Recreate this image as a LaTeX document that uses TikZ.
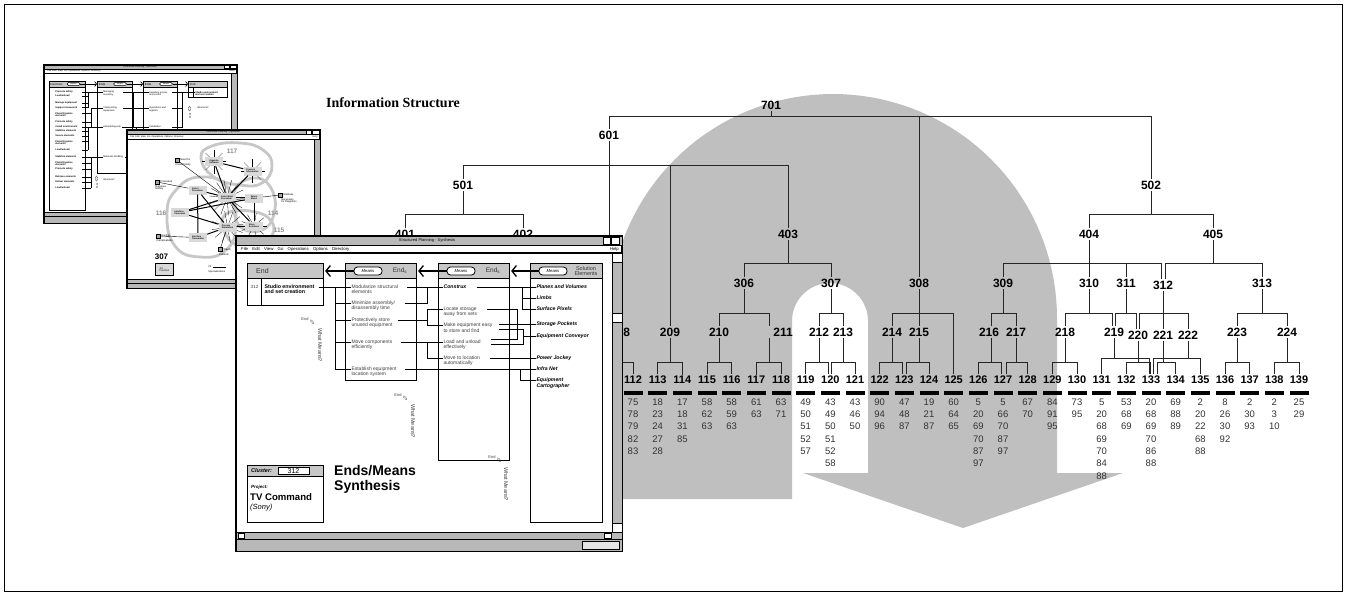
\documentclass[tikz,border=0pt]{standalone}
\usepackage{fontspec}
\setmainfont{Liberation Sans}
\newfontfamily\titlefont{Liberation Serif}
\usetikzlibrary{positioning,arrows.meta}
\newcommand{\fsz}[1]{\fontsize{#1}{#1}\selectfont}

\tikzset{
  % cluster tree
  lbl/.style={font=\bfseries\fsz{12}, inner sep=1.5pt},
  leaf/.style={font=\bfseries\fsz{11}, inner sep=1.5pt},
  num/.style={font=\fsz{9.5}, inner sep=0pt, text=black!80},
  tree/.style={line width=0.9pt, draw=black!85},
  uturn/.style={fill=black!25},
  % screen windows
  winframe/.style={draw, line width=1.3pt, fill=white},
  winbar/.style={draw, line width=0.5pt, fill=black!28},
  winbtn/.style={draw, line width=0.5pt, fill=white},
  colbox/.style={draw, line width=0.6pt, fill=white, anchor=north west, inner sep=0pt},
  hdr/.style={draw, line width=0.6pt, fill=black!22, anchor=north west, inner sep=0pt},
  oval/.style={draw, line width=0.8pt, fill=white, rounded corners=3.5pt, inner sep=0pt,
    minimum width=28pt, minimum height=8pt, font=\itshape\fsz{4.2}},
  soval/.style={oval, minimum width=13pt, minimum height=3.2pt, font=\itshape\fsz{2},
    rounded corners=1.5pt, line width=0.5pt},
  link/.style={line width=1pt},
  item/.style={font=\fsz{5}, text=black!75, inner sep=0.3pt, anchor=west},
  sol/.style={font=\bfseries\itshape\fsz{5.2}, inner sep=0.3pt, anchor=west},
  whatlbl/.style={font=\fsz{4}, text=black!75, inner sep=0pt},
  meansarrow/.style={line width=1.3pt, -{Straight Barb[length=4.5pt, width=11pt]}},
  smallarrow/.style={line width=0.7pt, -{Straight Barb[length=2pt, width=5pt]}},
  tiny/.style={font=\fsz{2.4}, inner sep=0.2pt, anchor=west},
  tinyb/.style={font=\bfseries\fsz{2.4}, inner sep=0.2pt, anchor=west, align=left},
  thin/.style={line width=0.6pt},
  netbox/.style={fill=black!15, font=\bfseries\fsz{2.2}, align=left, inner sep=0.8pt,
    minimum width=18pt, minimum height=9pt},
  loop/.style={draw=black!22, line width=2.8pt},
  chk/.style={draw, line width=0.5pt, fill=black!35, minimum size=4pt, inner sep=0pt},
}

\begin{document}
\begin{tikzpicture}[x=1pt, y=-1pt]
\useasboundingbox (0,0) rectangle (1351,595);

% grey u-turn arrow behind the tree
\fill[uturn] (609,499) -- plot[domain=180:0, samples=73] ({833+224*cos(\x)}, {318-224*sin(\x)})
  -- (1057,473) -- (1123,473) -- (963,528) -- (803,473) -- (868,473)
  -- plot[domain=0:180, samples=37] ({830+38*cos(\x)}, {321-38*sin(\x)})
  -- (792,499) -- cycle;

\node[font=\titlefont\bfseries\fsz{14}] (title) at (393,103) {Information Structure};

% upper levels of the tree
\node[lbl] (n701) at (771,105) {701};
\node[lbl] (n601) at (609,135) {601};
\node[lbl] (n501) at (463,185) {501};
\node[lbl] (n502) at (1151,185) {502};
\node[lbl] (n401) at (405,234) {401};
\node[lbl] (n402) at (523,234) {402};
\node[lbl] (n403) at (788,234) {403};
\node[lbl] (n404) at (1089,234) {404};
\node[lbl] (n405) at (1213,234) {405};
\node[lbl] (n306) at (744,283) {306};
\node[lbl] (n307) at (831,283) {307};
\node[lbl] (n308) at (919,283) {308};
\node[lbl] (n309) at (1003,283) {309};
\node[lbl] (n310) at (1089,283) {310};
\node[lbl] (n311) at (1126,283) {311};
\node[lbl] (n312) at (1163,285) {312};
\node[lbl] (n313) at (1262,283) {313};
\node[lbl] (n208) at (620,332) {208};
\node[lbl] (n209) at (670,332) {209};
\node[lbl] (n210) at (719,332) {210};
\node[lbl] (n211) at (783,332) {211};
\node[lbl] (n212) at (819,332) {212};
\node[lbl] (n213) at (843,332) {213};
\node[lbl] (n214) at (892,332) {214};
\node[lbl] (n215) at (919,332) {215};
\node[lbl] (n216) at (989,332) {216};
\node[lbl] (n217) at (1016,332) {217};
\node[lbl] (n218) at (1065,332) {218};
\node[lbl] (n219) at (1114,332) {219};
\node[lbl] (n220) at (1138,335) {220};
\node[lbl] (n221) at (1163,335) {221};
\node[lbl] (n222) at (1188,335) {222};
\node[lbl] (n223) at (1237,332) {223};
\node[lbl] (n224) at (1287,332) {224};

% leaves with their members
\foreach \n/\vals [count=\k from 0] in {112/{75,78,79,82,83}, 113/{18,23,24,27,28}, 114/{17,18,31,85},
    115/{58,62,63}, 116/{58,59,63}, 117/{61,63}, 118/{63,71}, 119/{49,50,51,52,57},
    120/{43,49,50,51,52,58}, 121/{43,46,50}, 122/{90,94,96}, 123/{47,48,87}, 124/{19,21,87},
    125/{60,64,65}, 126/{5,20,69,70,87,97}, 127/{5,66,70,87,97}, 128/{67,70}, 129/{84,91,95},
    130/{73,95}, 131/{5,20,68,69,70,84,88}, 132/{53,68,69}, 133/{20,68,69,70,86,88},
    134/{69,88,89}, 135/{2,20,22,68,88}, 136/{8,26,30,92}, 137/{2,30,93}, 138/{2,3,10}, 139/{25,29}}{
  \node[leaf] (n\n) at ({633+24.667*\k},380) {\n};
  \fill ({633+24.667*\k-9.5},391) rectangle ++(19,3.6);
  \foreach \v [count=\j from 0] in \vals
    \node[num] at ({633+24.667*\k},{402+12.3*\j}) {\v};
}

% bar heights
\coordinate (y7) at (0,116);
\coordinate (y6) at (0,165);
\coordinate (y5) at (0,214);
\coordinate (y4) at (0,263);
\coordinate (y3) at (0,313);
\coordinate (y2) at (0,362);
\coordinate (y2b) at (0,358);
\coordinate (c111) at (608,371);

\draw[tree] (n701.south) -- (n701.south |- y7);
\draw[tree] (n601.north) |- (n502.north |- y7) -- (n502.north);
\draw[tree] (n308.north) -- (n308.north |- y7);
\draw[tree] (n601.south) -- (n601.south |- n208.north);
\draw[tree] (n501.north) |- (n403.north |- y6) -- (n403.north);
\draw[tree] (n209.north) -- (n209.north |- y6);
\draw[tree] (n501.south) -- (n501.south |- y5);
\draw[tree] (n401.north) |- (n402.north |- y5) -- (n402.north);
\draw[tree] (n502.south) -- (n502.south |- y5);
\draw[tree] (n404.north) |- (n405.north |- y5) -- (n405.north);
\draw[tree] (n403.south) -- (n403.south |- y4);
\draw[tree] (n306.north) |- (n307.north |- y4) -- (n307.north);
\draw[tree] (n404.south) -- (n404.south |- y4);
\draw[tree] (n309.north) |- ([xshift=-2]n312.north |- y4) -- ([xshift=-2]n312.north);
\draw[tree] (n310.north) -- (n310.north |- y4);
\draw[tree] (n311.north) -- (n311.north |- y4);
\draw[tree] (n405.south) -- (n405.south |- y4);
\draw[tree] ([xshift=2]n312.north) |- (n313.north |- y4) -- (n313.north);

\draw[tree] (n306.south) -- (n306.south |- y3);
\draw[tree] (n210.north) |- ([xshift=-14]n211.north |- y3) -- ([xshift=-14]n211.north);
\draw[tree] (n307.south) -- (n307.south |- y3);
\draw[tree] (n212.north) |- (n213.north |- y3) -- (n213.north);
\draw[tree] (n308.south) -- (n215.north);
\draw[tree] (n214.north) |- (n125.north |- y3) -- (n125.north);
\draw[tree] (n309.south) -- (n309.south |- y3);
\draw[tree] ([xshift=2]n216.north) |- (n217.north |- y3) -- (n217.north);
\draw[tree] (n310.south) -- (n310.south |- y3);
\draw[tree] (n218.north) |- ([xshift=-1.5]n219.north |- y3) -- ([xshift=-1.5]n219.north);
\draw[tree] (n311.south) -- (n311.south |- y3);
\draw[tree] ([xshift=1.5]n219.north) |- ([xshift=-1.5]n220.north |- y3) -- ([xshift=-1.5]n220.north);
\draw[tree] (n312.south) -- (n221.north);
\draw[tree] ([xshift=1.5]n220.north) |- (n222.north |- y3) -- (n222.north);
\draw[tree] (n313.south) -- (n313.south |- y3);
\draw[tree] (n223.north) |- (n224.north |- y3) -- (n224.north);

\draw[tree] (n208.south) -- (n208.south |- y2);
\draw[tree] (c111) |- (n112.north |- y2) -- (n112.north);
\draw[tree] (n209.south) -- (n209.south |- y2);
\draw[tree] (n113.north) |- (n114.north |- y2) -- (n114.north);
\draw[tree] (n210.south) -- (n210.south |- y2);
\draw[tree] (n115.north) |- (n116.north |- y2) -- (n116.north);
\draw[tree] ([xshift=-14]n211.south) -- ([xshift=-14]n211.south |- y2);
\draw[tree] (n117.north) |- (n118.north |- y2) -- (n118.north);
\draw[tree] (n212.south) -- (n212.south |- y2);
\draw[tree] (n119.north) |- ([xshift=-1.5]n120.north |- y2) -- ([xshift=-1.5]n120.north);
\draw[tree] (n213.south) -- (n213.south |- y2);
\draw[tree] ([xshift=1.5]n120.north) |- (n121.north |- y2) -- (n121.north);
\draw[tree] (n214.south) -- (n214.south |- y2);
\draw[tree] (n122.north) |- ([xshift=-1.5]n123.north |- y2) -- ([xshift=-1.5]n123.north);
\draw[tree] (n215.south) -- (n215.south |- y2);
\draw[tree] ([xshift=2.5]n123.north) |- (n124.north |- y2) -- (n124.north);
\draw[tree] ([xshift=2]n216.south) -- ([xshift=2]n216.south |- y2);
\draw[tree] (n126.north) |- ([xshift=-2]n127.north |- y2) -- ([xshift=-2]n127.north);
\draw[tree] (n217.south) -- (n217.south |- y2);
\draw[tree] ([xshift=3]n127.north) |- (n128.north |- y2) -- (n128.north);
\draw[tree] (n218.south) -- (n218.south |- y2);
\draw[tree] (n129.north) |- (n130.north |- y2) -- (n130.north);
\draw[tree] (n219.south) -- (n219.south |- y2b);
\draw[tree] (n131.north) |- ([xshift=-2]n133.north |- y2b) -- ([xshift=-2]n133.north);
\draw[tree] (n220.south) -- (n220.south |- y2);
\draw[tree] (n132.north) |- ([xshift=-0.5]n133.north |- y2) -- ([xshift=-0.5]n133.north);
\draw[tree] (n221.south) -- (n221.south |- y2);
\draw[tree] ([xshift=6.5]n133.north) |- (n134.north |- y2) -- (n134.north);
\draw[tree] (n222.south) -- (n222.south |- y2b);
\draw[tree] ([xshift=2]n133.north) |- (n135.north |- y2b) -- (n135.north);
\draw[tree] (n223.south) -- (n223.south |- y2);
\draw[tree] (n136.north) |- (n137.north |- y2) -- (n137.north);
\draw[tree] (n224.south) -- (n224.south |- y2);
\draw[tree] (n138.north) |- (n139.north |- y2) -- (n139.north);

% ---------- back window: functions and ends
\draw[winframe] (44,65) rectangle (237,223);
\draw[winbar] (44,65) rectangle (237,69);
\node[font=\fsz{2.4}, inner sep=0pt] (atitle) at (140,67) {Structured Planning - Synthesis};
\draw[winbtn] (224,65.6) rectangle (229.5,68.4);
\draw[winbtn] (230.5,65.6) rectangle (236,68.4);
\node[tiny] (amenu) at (47,71.2) {File\enspace Edit\enspace View\enspace Go\enspace Operations\enspace Options\enspace Directory};
\node[tiny, anchor=east] (ahelp) at (235,71.2) {Help};
\draw[line width=0.7pt] (44,73.3) -- (237,73.3);
\draw[winbar] (231,73.3) rectangle (237,212);
\draw[winbar] (44,212) rectangle (237,216);
\draw[winbar] (44,216) rectangle (237,223);

\node[colbox, minimum width=36pt, minimum height=129pt] (afun) at (49,81) {};
\node[hdr, minimum width=36pt, minimum height=6pt] at (49,81) {};
\node[colbox, minimum width=35pt, minimum height=92pt] (aends1) at (97,81) {};
\node[hdr, minimum width=35pt, minimum height=6pt] at (97,81) {};
\node[colbox, minimum width=34pt, minimum height=51pt] (aends2) at (143,81) {};
\node[hdr, minimum width=34pt, minimum height=6pt] at (143,81) {};
\node[colbox, minimum width=39pt, minimum height=16pt] (aend) at (188,81) {};
\node[hdr, minimum width=39pt, minimum height=6pt] at (188,81) {};
\node[tiny, font=\fsz{2.8}] at (50,84) {Functions};
\node[soval] (ameans1) at (73.5,84) {Means};
\node[tiny, font=\fsz{2.8}] at (98.5,84) {Ends};
\node[soval] (ameans2) at (120,84) {Means};
\node[tiny, font=\fsz{2.8}] at (144.5,84) {Ends};
\node[soval] (ameans3) at (166,84) {Means};
\node[tiny, font=\fsz{2.8}] at (190,84) {End};
\draw[smallarrow] (ameans1.east) -- (aends1.west |- ameans1.east);
\draw[smallarrow] (ameans2.east) -- (aends2.west |- ameans2.east);
\draw[smallarrow] (ameans3.east) -- (aend.west |- ameans3.east);
\node[tinyb] (astudio) at (195,93.5) {Studio environment\\and set creation};
\draw[thin] (193,87) -- (193,97);

\foreach \y/\t in {92/{Promote safety}, 96/{Load/unload}, 103/{Manage equipment}, 107.5/{Support movement},
    114.5/{Place/Organize\\elements}, 122/{Promote safety}, 127/{Install environment}, 131/{Stabilize elements},
    136/{Secure elements}, 142.5/{Place/Organize\\elements}, 150/{Load/unload}, 157/{Stabilize elements},
    163.5/{Place/Organize\\elements}, 169/{Promote safety}, 177/{Retrieve elements}, 182/{Deliver elements},
    188/{Load/unload}}
  \node[tinyb] at (55,\y) {\t};
\foreach \y in {92,96,103,107.5,131,136,141,150} \draw[thin] (82,\y) -- (88,\y);
\foreach \y in {113,122,127,157,163,169,177,182,188} \draw[thin] (82,\y) -- (91,\y);
\draw[thin] (88,92) -- (88,107.5);
\draw[thin] (91,108) -- (91,127);
\draw[thin] (88,127) -- (88,150);
\draw[thin] (91,157) -- (91,188);

\node[tiny, align=left] (ainv) at (103,93.5) {Managing\\inventory};
\node[tiny, align=left] (atrans) at (103,109.5) {Transporting\\equipment};
\node[tiny] (aassem) at (103,127) {Assembling sets};
\node[tiny] (amat) at (103,157) {Materials handling};
\draw[thin] (88,92) -- (ainv.west |- 0,92);
\draw[thin] (91,108) -- (atrans.west |- 0,108);
\draw[thin] (88,127) -- (aassem.west);
\draw[thin] (91,157) -- (amat.west);

\node[tiny, align=left] (aacc) at (149,93.5) {Inventory access\\and control};
\node[tiny, align=left] (aops) at (149,109.5) {Operations and\\logistics};
\node[tiny] (ainst) at (149,127) {Installation};
\draw[thin] (123,92) -- (aacc.west |- 0,92);
\draw[thin] (123,108) -- (aops.west |- 0,108);
\draw[thin] (122,127) -- (ainst.west);
\draw[thin] (125,157) -| (136,127);
\draw[thin] (133,92) -- (133,127);
\draw[thin] (172,92) -| (182,127) -- (172,127);
\draw[thin] (172,108) -- (182,108);
\draw[thin] (182,92) -- (astudio.west |- 0,92);
\node[tiny, font=\fsz{2.3}] at (197,108) {What End?};
\node[tiny, font=\fsz{2.3}, rotate=90] at (190,119) {Ends $\Leftrightarrow$};
\node[tiny, font=\fsz{2.3}] at (103,180) {What End?};
\node[tiny, font=\fsz{2.3}, rotate=90] at (97,189) {Ends $\Leftrightarrow$};

% ---------- middle window: cluster network
\draw[winframe] (127,130) rectangle (320,288);
\draw[winbar] (127,130) rectangle (320,134.5);
\node[font=\fsz{2.4}, inner sep=0pt] (btitle) at (223,132.3) {Structured Planning - Synthesis};
\draw[winbtn] (306,130.6) rectangle (311.5,134);
\draw[winbtn] (312.5,130.6) rectangle (319,134);
\node[tiny] (bmenu) at (130,136.8) {File\enspace Edit\enspace View\enspace Go\enspace Operations\enspace Options\enspace Directory};
\node[tiny, anchor=east] (bhelp) at (318,136.8) {Help};
\draw[line width=0.7pt] (127,139) -- (320,139);
\draw[winbar] (314,139) rectangle (320,279);
\draw[winbar] (127,279) rectangle (320,283);
\draw[winbar] (127,283) rectangle (320,288);

\draw[loop] plot[smooth cycle, tension=0.8] coordinates {(201,158) (212,146) (240,143) (263,150) (272,166) (262,183) (240,185) (214,177)};
\draw[loop] plot[smooth cycle, tension=0.8] coordinates {(167,214) (176,190) (200,177) (228,188) (236,224) (226,250) (200,257) (175,246)};
\draw[loop] plot[smooth cycle, tension=0.8] coordinates {(236,188) (256,178) (272,190) (274,214) (262,230) (242,228) (234,210)};
\draw[loop] plot[smooth cycle, tension=0.8] coordinates {(224,216) (250,211) (272,222) (268,240) (245,246) (228,238)};
\node[font=\bfseries\fsz{6.5}, text=black!45] (c117) at (232,151) {117};
\node[font=\bfseries\fsz{6.5}, text=black!45] (c116) at (161,213) {116};
\node[font=\bfseries\fsz{6.5}, text=black!45] (c114) at (273,213) {114};
\node[font=\bfseries\fsz{6.5}, text=black!45] (c115) at (279,230) {115};

\coordinate (hub) at (227,197.5);
\coordinate (sim) at (227.5,227);
\foreach \a in {10,35,...,360} \draw[line width=0.3pt] (hub) -- ++(\a:18);
\foreach \a in {20,50,...,360} \draw[line width=0.3pt] (sim) -- ++(\a:16);
\foreach \a in {0,45,...,360} \draw[line width=0.3pt] (214,161.5) -- ++(\a:12);
\foreach \a in {0,45,...,360} \draw[line width=0.3pt] (252.5,171) -- ++(\a:12);
\foreach \a in {0,40,...,360} \draw[line width=0.3pt] (254,226) -- ++(\a:13);

\node[netbox] (orgsoft) at (214,161.5) {Organize\\Software};
\node[netbox] (procinfo) at (252.5,171) {Process\\Information};
\node[netbox] (selproc) at (197.5,190) {Select\\Procedure};
\node[netbox] (selbest) at (hub) {Select Best\\Procedure};
\node[netbox] (selstand) at (254,198) {Select\\Stand};
\node[netbox] (intpers) at (180,212.5) {Interface\\Personnel};
\node[netbox] (procsim) at (sim) {Process\\Simulation};
\node[netbox] (storesol) at (254,226) {Store\\Solutions};
\node[netbox] (inttrans) at (198,237.5) {Interface\\Transmitter};
\draw[link] (orgsoft) -- (procinfo);
\draw[link] (orgsoft) -- (selbest);
\draw[link] (procinfo) -- (selbest);
\draw[link] (selproc) -- (selbest);
\draw[link] (selproc) -- (inttrans);
\draw[link] (selproc) -- (procsim);
\draw[link] (intpers) -- (selbest);
\draw[link] (intpers) -- (procsim);
\draw[link] (intpers) -- (selstand);
\draw[link] (selbest) -- (selstand);
\draw[link] (selbest) -- (storesol);
\draw[link] (selstand) -- (storesol);
\draw[link] (inttrans) -- (procsim);
\draw[link] (procsim) -- (storesol);

\node[chk] (kneed) at (177,160) {};
\node[tiny, font=\fsz{2.6}] at (180,160) {Need for};
\node[tiny, font=\fsz{2.6}] at (175,164.5) {Know Priority};
\node[chk] (kproc) at (157,182) {};
\node[tiny, font=\fsz{2.6}] at (160,182) {Procedure};
\node[tiny, font=\fsz{2.6}, align=left, anchor=north west] at (155,185) {Requires\\History};
\node[chk] (khist) at (280,195) {};
\node[tiny, font=\fsz{2.6}] at (283,195) {Histories};
\node[tiny, font=\fsz{2.6}, align=left, anchor=north west] at (281,198) {Necessary\\for Diagnosis};
\node[chk] (kctrl) at (158,236) {};
\node[tiny, font=\fsz{2.6}] at (161,236) {Control};
\node[tiny, font=\fsz{2.6}] at (156,240.5) {Complications};
\node[chk] (ktrav) at (220,249.5) {};
\node[tiny, font=\fsz{2.6}] at (223,249.5) {Travel};
\node[tiny, font=\fsz{2.6}] at (219,254.5) {Patients};
\draw[line width=0.4pt] (kneed) -- (selbest);
\draw[line width=0.4pt] (kproc) -- (selproc);
\draw[line width=0.4pt] (khist) -- (selstand);
\draw[line width=0.4pt] (kctrl) -- (inttrans);
\draw[line width=0.4pt] (ktrav) -- (procsim);

\node[font=\bfseries\fsz{8}] (b307) at (161.5,257) {307};
\node[netbox, draw, line width=0.8pt, anchor=north west, minimum width=18pt, minimum height=12pt, font=\fsz{2.5}] (bfun) at (155,263) {XX\\Function};
\node[tiny, font=\fsz{2.5}] (bspec) at (208,272) {Specializations};
\node[tiny, font=\fsz{2.5}] (b22) at (208,267) {22};
\draw[line width=0.5pt] ([xshift=1]b22.east) -- ++(13,0);

% ---------- front window: ends/means synthesis
\draw[winframe] (236,236) rectangle (622,551);
\draw[winbar] (236,236) rectangle (622,245);
\node[font=\fsz{4}, inner sep=0pt] (ctitle) at (427,240.5) {Structured Planning - Synthesis};
\draw[winbtn] (603,237) rectangle (610,244);
\draw[winbtn] (611,237) rectangle (619,244);
\node[font=\fsz{4.3}, anchor=west, inner sep=0pt] (cmenu) at (241,249) {File\quad Edit\quad View\quad Go\quad Operations\quad Options\quad Directory};
\node[font=\fsz{4.3}, anchor=east, inner sep=0pt] (chelp) at (619,249) {Help};
\draw[line width=1.1pt] (236,253) -- (622,253);
\draw[winbar] (612,253) rectangle (622,532);
\draw[winbtn] (612,253) rectangle (622,262);
\draw[winbtn] (612,313) rectangle (622,322);
\draw[winbtn] (612,523) rectangle (622,532);
\draw[winbar] (236,532) rectangle (622,539);
\draw[winbtn] (238,533) rectangle (244,538);
\draw[winbtn] (604,533) rectangle (611,538);
\draw[winbar] (236,539) rectangle (622,551);
\draw[winbtn, fill=black!10] (582,541) rectangle (619,549);

% columns
\node[colbox, minimum width=76pt, minimum height=42pt] (endcol) at (247,263) {};
\node[hdr, minimum width=76pt, minimum height=15pt] at (247,263) {};
\node[colbox, minimum width=71pt, minimum height=117pt] (endscolA) at (345,263) {};
\node[hdr, minimum width=71pt, minimum height=15pt] at (345,263) {};
\node[colbox, minimum width=71pt, minimum height=197pt] (endscolB) at (438,263) {};
\node[hdr, minimum width=71pt, minimum height=15pt] at (438,263) {};
\node[colbox, minimum width=72pt, minimum height=259pt] (solcol) at (530,263) {};
\node[hdr, minimum width=72pt, minimum height=15pt] at (530,263) {};
\draw[line width=0.6pt] (261,278) -- (261,305);

\node[font=\fsz{7}, text=black!80, anchor=west, inner sep=0pt] (endhdr) at (256,270.5) {End};
\node[oval] (means2) at (368,271) {Means};
\node[font=\fsz{6.5}, text=black!80] (ends2) at (400,270.5) {End\textsubscript{s}};
\node[oval] (means3) at (461,271) {Means};
\node[font=\fsz{6.5}, text=black!80] (ends3) at (493,270.5) {End\textsubscript{s}};
\node[oval] (means4) at (553,271) {Means};
\node[font=\fsz{5.5}, text=black!80, align=center, inner sep=0pt] (solhdr) at (586,271) {Solution\\Elements};
\draw[meansarrow] (means2.west) -- ([xshift=1.5]endcol.east |- means2.west);
\draw[meansarrow] (means3.west) -- ([xshift=1.5]endscolA.east |- means3.west);
\draw[meansarrow] (means4.west) -- ([xshift=1.5]endscolB.east |- means4.west);

\node[font=\fsz{4.5}, text=black!75] (clno) at (254.5,287) {312};
\node[font=\bfseries\fsz{5.3}, anchor=west, inner sep=0.3pt] (studio) at (264,287) {Studio environment};
\node[font=\bfseries\fsz{5.3}, anchor=north west, inner sep=0.3pt] (studiob) at (studio.south west) {and set creation};

\node[item] (modul) at (351,287) {Modularize structural};
\node[item, anchor=north west] (modulb) at (modul.south west) {elements};
\node[item] (minim) at (351,303) {Minimize assembly/};
\node[item, anchor=north west] (minimb) at (minim.south west) {disassembly time};
\node[item] (protect) at (351,320) {Protectively store};
\node[item, anchor=north west] (protectb) at (protect.south west) {unused equipment};
\node[item] (movecomp) at (351,342) {Move components};
\node[item, anchor=north west] (movecompb) at (movecomp.south west) {efficiently};
\node[item] (establish) at (351,369) {Establish equipment};
\node[item, anchor=north west] (establishb) at (establish.south west) {location system};

\node[sol] (construx) at (443,287) {Construx};
\node[item] (locate) at (443,309) {Locate storage};
\node[item, anchor=north west] (locateb) at (locate.south west) {away from sets};
\node[item] (makeeasy) at (443,325.5) {Make equipment easy};
\node[item, anchor=north west] (makeeasyb) at (makeeasy.south west) {to store and find};
\node[item] (loadunload) at (443,342) {Load and unload};
\node[item, anchor=north west] (loadunloadb) at (loadunload.south west) {effectively};
\node[item] (moveloc) at (443,358) {Move to location};
\node[item, anchor=north west] (movelocb) at (moveloc.south west) {automatically};

\node[sol] (planes) at (536,287) {Planes and Volumes};
\node[sol] (limbs) at (536,298) {Limbs};
\node[sol] (surface) at (536,309) {Surface Pixels};
\node[sol] (pockets) at (536,324) {Storage Pockets};
\node[sol] (conveyor) at (536,336) {Equipment Conveyor};
\node[sol] (jockey) at (536,358) {Power Jockey};
\node[sol] (infranet) at (536,369) {Infra Net};
\node[sol] (cartog) at (536,380) {Equipment};
\node[sol, anchor=north west] (cartogb) at (cartog.south west) {Cartographer};

% end -> ends
\draw[link] ([xshift=4]studio.east) -- (modul.west);
\draw[link] (335,287) |- (minim.west);
\draw[link] (335,287) |- (protect.west);
\draw[link] (335,287) |- (movecomp.west);
\draw[link] (335,287) |- (establish.west);
% ends -> ends
\draw[link] ([xshift=9]modul.east) -- (construx.west);
\draw[link] ([xshift=9]minim.east) -| (427,287);
\draw[link] ([xshift=8]protect.east) -| (427,309) -- (locate.west);
\draw[link] (427,320) |- (makeeasy.west);
\draw[link] ([xshift=8]movecomp.east) -- (loadunload.west);
\draw[link] (427,342) |- (moveloc.west);
\draw[link] ([xshift=8]establish.east) -- (infranet.west);
\draw[link] (520,369) |- (cartog.west);
% ends -> solution elements
\draw[link] ([xshift=10]construx.east) -- (planes.west);
\draw[link] (522,287) |- (limbs.west);
\draw[link] (522,287) |- (surface.west);
\draw[link] ([xshift=10]locate.east) -| (517,339.5) -- ([xshift=10]loadunload.east |- 0,339.5);
\draw[link] ([xshift=6,yshift=1.5]makeeasy.east) -- (pockets.west);
\draw[link] ([xshift=6,yshift=-3.5]makeeasy.east) -| (523,344) -- ([xshift=10]loadunload.east |- 0,344);
\draw[link] (523,336) -- (conveyor.west);
\draw[link] ([xshift=10]moveloc.east) -- (jockey.west);

% "what means?" marks
\node[whatlbl] (end1) at (305,319) {End};
\node[whatlbl, rotate=-50] at (312,322) {$\Leftrightarrow$};
\node[whatlbl, font=\fsz{5.5}, rotate=-90] (what1) at (320,345) {What Means?};
\node[whatlbl] (end2) at (398,395) {End};
\node[whatlbl, rotate=-50] at (405,398) {$\Leftrightarrow$};
\node[whatlbl, font=\fsz{5.5}, rotate=-90] (what2) at (413,421) {What Means?};
\node[whatlbl] (end3) at (492,457) {End};
\node[whatlbl, rotate=-50] at (499,460) {$\Leftrightarrow$};
\node[whatlbl, font=\fsz{5.5}, rotate=-90] (what3) at (506,484) {What Means?};

% cluster box and heading
\node[colbox, minimum width=76pt, minimum height=57pt] (clbox) at (247,465) {};
\node[hdr, minimum width=76pt, minimum height=11pt] at (247,465) {};
\node[font=\bfseries\itshape\fsz{5.5}, anchor=west, inner sep=0pt] (cllbl) at (251,470.5) {Cluster:};
\node[draw, fill=white, line width=0.6pt, minimum width=31pt, minimum height=7.5pt, inner sep=0pt, font=\fsz{7}] (clval) at (293.5,470.8) {312};
\node[font=\bfseries\itshape\fsz{4.5}, anchor=west, inner sep=0pt] (projlbl) at (251,487.5) {Project:};
\node[font=\bfseries\fsz{9.6}, anchor=west, inner sep=0pt] (projname) at (250,497) {TV Command};
\node[font=\itshape\fsz{7.5}, anchor=west, inner sep=0pt] (projclient) at (250,508) {(Sony)};
\node[font=\bfseries\fontsize{14}{15}\selectfont, anchor=north west, align=left, inner sep=0pt] (synth) at (334,465) {Ends/Means\\Synthesis};

% outer frame
\draw[line width=0.6pt] (4,4) rectangle (1342,591);
\end{tikzpicture}
\end{document}
